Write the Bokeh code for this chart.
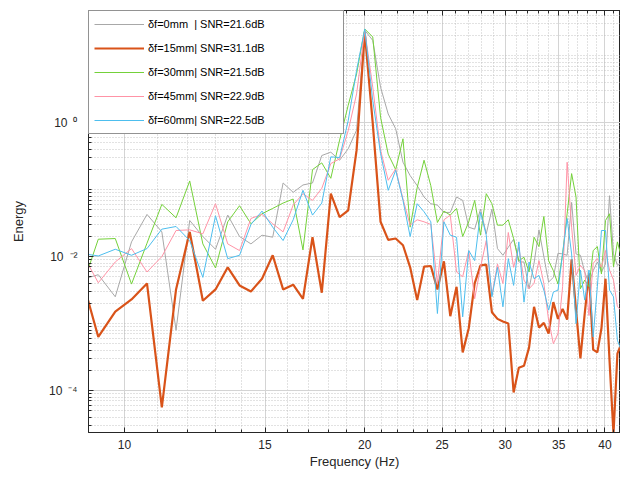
from bokeh.plotting import figure
from bokeh.models import FixedTicker, Range1d, Legend, LegendItem, LogAxis
from bokeh.embed import file_html
from bokeh.resources import INLINE

# ---------------- data ----------------
freq_hz = [8.804, 9.271, 9.737, 10.204, 10.670, 11.137, 11.603, 12.070, 12.536, 13.003,
           13.469, 13.936, 14.402, 14.869, 15.335, 15.802, 16.268, 16.735, 17.201, 17.668,
           18.134, 18.601, 19.067, 19.534, 20.000, 20.467, 20.933, 21.400, 21.866, 22.333,
           22.799, 23.266, 23.732, 24.199, 24.665, 25.132, 25.598, 26.065, 26.531, 26.998,
           27.464, 27.931, 28.397, 28.864, 29.330, 29.797, 30.263, 30.730, 31.196, 31.663,
           32.129, 32.596, 33.062, 33.529, 33.995, 34.462, 34.928, 35.395, 35.861, 36.328,
           36.794, 37.261, 37.727, 38.194, 38.660, 39.127, 39.593, 40.060, 40.526, 40.993,
           41.459, 41.926]

# log10(Energy) for each series
log10_energy_0mm = [-2.35, -2.27, -2.60, -1.78, -1.37, -1.63, -3.10, -1.46, -1.70, -1.89,
                    -1.38, -1.70, -1.81, -1.68, -1.71, -0.90, -1.04, -0.93, -0.90, -0.49,
                    -0.44, -0.56, -0.39, -0.11, 1.38, 1.23, 0.53, 0.13, -0.09, -0.59,
                    -0.79, -0.94, -1.11, -1.21, -1.23, -1.34, -1.34, -1.11, -1.16, -1.56,
                    -1.59, -1.29, -1.66, -1.29, -1.88, -1.98, -1.86, -1.74, -2.08, -2.08,
                    -2.48, -2.10, -1.60, -2.00, -2.38, -2.31, -1.95, -1.96, -1.98, -1.19,
                    -1.96, -1.98, -2.23, -2.40, -2.21, -2.08, -2.23, -2.11, -1.09, -1.96,
                    -2.13, -2.10]
log10_energy_15mm = [-2.24, -3.20, -2.82, -2.64, -2.40, -4.25, -2.49, -1.63, -2.66, -2.49,
                     -2.16, -2.43, -2.52, -2.33, -1.98, -2.49, -2.42, -2.63, -1.71, -2.54,
                     -1.06, -1.41, -1.31, -0.41, 1.35, -0.01, -1.48, -1.75, -1.73, -1.83,
                     -2.16, -2.65, -2.15, -2.14, -2.49, -2.07, -2.89, -2.45, -3.43, -3.07,
                     -2.40, -2.13, -2.12, -2.83, -2.93, -2.97, -3.00, -4.03, -3.66, -3.63,
                     -3.36, -2.75, -3.06, -2.99, -3.15, -2.68, -2.93, -2.78, -2.94, -2.04,
                     -2.80, -3.52, -2.85, -2.25, -3.39, -3.43, -3.07, -2.33, -3.55, -4.65,
                     -3.45, -3.30]
log10_energy_30mm = [-2.53, -1.74, -1.73, -2.41, -1.80, -1.22, -1.42, -0.87, -1.81, -2.17,
                     -1.48, -1.24, -1.51, -1.36, -1.28, -1.20, -1.14, -1.90, -0.70, -0.60,
                     -0.83, -0.26, 0.26, 0.73, 1.40, 1.28, 0.08, -0.47, -0.70, -0.24,
                     -1.56, -0.97, -0.56, -0.94, -1.49, -1.32, -1.38, -1.28, -1.70, -1.48,
                     -1.16, -1.68, -1.06, -1.21, -1.53, -1.53, -1.45, -1.73, -2.06, -2.01,
                     -2.23, -1.71, -1.85, -1.40, -2.06, -2.21, -2.41, -1.96, -1.36, -0.76,
                     -1.11, -2.48, -2.35, -2.45, -1.91, -1.85, -2.26, -1.46, -1.36, -2.15,
                     -1.78, -2.00]
log10_energy_45mm = [-1.90, -2.39, -2.08, -1.88, -2.23, -2.00, -1.61, -1.60, -1.66, -1.21,
                     -1.81, -1.91, -1.43, -1.37, -1.51, -1.63, -1.23, -1.06, -1.16, -0.98,
                     -0.61, -0.54, -0.12, 0.43, 1.38, 0.53, -0.41, -0.86, -0.69, -1.14,
                     -1.53, -1.45, -1.48, -1.52, -2.40, -1.45, -1.38, -2.23, -2.30, -1.91,
                     -2.63, -2.16, -1.76, -2.58, -2.11, -2.40, -1.64, -2.16, -1.86, -2.35,
                     -2.48, -2.40, -2.06, -2.40, -2.95, -3.30, -3.15, -2.45, -0.59, -1.56,
                     -2.28, -2.13, -2.21, -2.88, -2.10, -2.03, -2.16, -1.91, -2.20, -2.35,
                     -2.75, -2.80]
log10_energy_60mm = [-1.95, -1.99, -1.89, -1.98, -1.88, -1.59, -1.55, -1.76, -2.31, -1.39,
                     -2.03, -1.98, -1.52, -1.32, -1.56, -1.76, -1.45, -1.01, -1.38, -1.20,
                     -0.51, -0.52, 0.03, 0.78, 1.40, 0.33, -0.46, -1.01, -0.71, -1.16,
                     -1.70, -1.21, -1.33, -1.48, -2.85, -1.48, -1.68, -1.71, -2.90, -1.91,
                     -2.06, -1.34, -1.68, -2.60, -2.16, -2.75, -2.03, -2.43, -1.78, -2.68,
                     -2.08, -2.33, -2.28, -2.50, -2.80, -2.53, -2.50, -1.96, -1.43, -1.96,
                     -3.00, -2.20, -2.65, -2.20, -3.20, -2.45, -1.61, -1.61, -2.50, -2.60,
                     -3.25, -3.40]

series_labels = ["δf=0mm  | SNR=21.6dB", "δf=15mm| SNR=31.1dB", "δf=30mm| SNR=21.5dB",
                 "δf=45mm| SNR=22.9dB", "δf=60mm| SNR=22.5dB"]
series_data = [log10_energy_0mm, log10_energy_15mm, log10_energy_30mm,
               log10_energy_45mm, log10_energy_60mm]

x_ticks = [10, 15, 20, 25, 30, 35, 40]
x_tick_labels = ["10", "15", "20", "25", "30", "35", "40"]
x_minor_ticks = list(range(9, 43))
y_ticks = [0.0001, 0.01, 1]
y_tick_labels = ["10\u2002\u207b\u2074", "10\u2002\u207b\u00b2", "10\u2002\u2070"]
y_minor_ticks = [m * 10.0 ** d for d in range(-5, 2) for m in range(1, 10)]

# ---------------- styles ----------------
colors = ["#a8a8a8", "#d95319", "#74d13a", "#ff93a6", "#4dbeee"]
widths = [1.0, 2.2, 1.0, 1.0, 1.0]
FONT = "Liberation Sans"
TXT = "#262626"

p = figure(width=620, height=486, x_axis_type="log", y_axis_type="log",
           x_range=Range1d(9.013, 41.83), y_range=Range1d(10 ** -4.627, 10 ** 1.676),
           output_backend="svg", toolbar_location=None,
           min_border_left=88, min_border_right=0, min_border_top=10, min_border_bottom=54)
p.background_fill_color = "white"
p.border_fill_color = "white"
p.outline_line_color = TXT
p.outline_line_width = 1

xt = FixedTicker(ticks=x_ticks, minor_ticks=x_minor_ticks)
yt = FixedTicker(ticks=y_ticks, minor_ticks=y_minor_ticks)

xa = p.xaxis[0]
xa.ticker = xt
xa.major_label_overrides = {t: s for t, s in zip(x_ticks, x_tick_labels)}
xa.axis_label = "Frequency (Hz)"
ya = p.yaxis[0]
ya.ticker = yt
ya.major_label_overrides = {t: s for t, s in zip(y_ticks, y_tick_labels)}
ya.axis_label = "Energy"

for ax in (xa, ya):
    ax.axis_line_color = TXT
    ax.major_tick_line_color = TXT
    ax.minor_tick_line_color = TXT
    ax.major_tick_in = 5
    ax.major_tick_out = 0
    ax.minor_tick_in = 3
    ax.minor_tick_out = 0
    ax.major_label_text_font = FONT
    ax.major_label_text_font_size = "12px"
    ax.major_label_text_color = TXT
    ax.axis_label_text_font = FONT
    ax.axis_label_text_font_size = "13px"
    ax.axis_label_text_font_style = "normal"
    ax.axis_label_text_color = TXT
xa.major_label_standoff = 7
xa.axis_label_standoff = 2
ya.major_label_standoff = 11
ya.axis_label_standoff = 20

top = LogAxis(ticker=xt, major_label_text_font_size="0px", major_label_standoff=0,
              major_tick_in=5, major_tick_out=0, minor_tick_in=3, minor_tick_out=0,
              axis_line_color=TXT, major_tick_line_color=TXT, minor_tick_line_color=TXT)
top.major_label_overrides = {t: "" for t in x_ticks}
p.add_layout(top, "above")

for g, tk in ((p.xgrid[0], xt), (p.ygrid[0], yt)):
    g.ticker = tk
    g.grid_line_color = "#d4d4d4"
    g.grid_line_width = 1
    g.minor_grid_line_color = "#b8b8b8"
    g.minor_grid_line_dash = "1 2"
    g.minor_grid_line_width = 1
    g.minor_grid_line_alpha = 0.8

items = []
for lab, vals, c, w in zip(series_labels, series_data, colors, widths):
    r = p.line(freq_hz, [10.0 ** v for v in vals], line_color=c, line_width=w)
    items.append(LegendItem(label=lab, renderers=[r]))

legend = Legend(items=items, location="top_left", margin=0, padding=5, spacing=8,
                glyph_width=50, glyph_height=16, label_height=16, label_width=190,
                label_standoff=4, label_text_font=FONT, label_text_font_size="11px",
                label_text_color="#000000", border_line_color=TXT, border_line_width=1,
                background_fill_color="white", background_fill_alpha=1.0)
p.add_layout(legend)

open("out.html", "w").write(file_html(p, INLINE))
